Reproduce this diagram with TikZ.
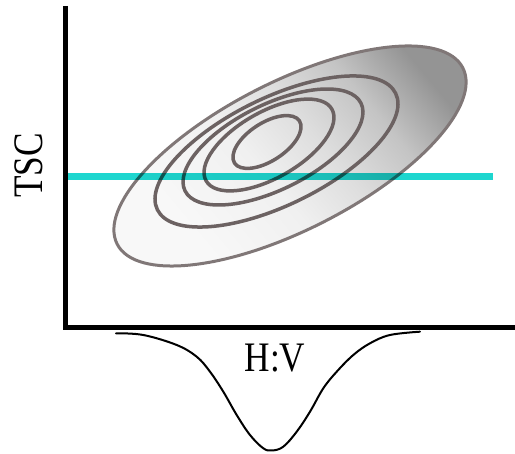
\documentclass[tikz,border=0pt]{standalone}
\usepackage{fontspec}
\setmainfont{Liberation Serif}
\usepackage{graphicx}
\definecolor{outl}{RGB}{128,119,119}
\definecolor{innl}{RGB}{108,98,98}
\definecolor{cyanline}{RGB}{30,214,207}
\definecolor{sh0}{RGB}{248,248,248}
\definecolor{sh1}{RGB}{240,240,240}
\definecolor{sh2}{RGB}{222,222,222}
\definecolor{sh3}{RGB}{196,196,196}
\definecolor{sh4}{RGB}{148,148,148}
\pgfdeclarehorizontalshading{ellsh}{100bp}{color(0bp)=(sh0); color(30bp)=(sh0); color(45bp)=(sh1); color(55bp)=(sh2); color(65bp)=(sh3); color(75bp)=(sh4); color(100bp)=(sh4)}
\tikzset{
  axisline/.style={line width=5pt, line join=miter, black},
  outerell/.style={draw=outl, line width=3pt},
  innerell/.style={draw=innl, line width=3.5pt},
  levelline/.style={cyanline, line width=7pt, blend mode=multiply},
  bellcurve/.style={black, line width=2pt, line cap=round},
  lbl/.style={font=\fontsize{42}{48}\selectfont, inner sep=0pt}
}
\begin{document}
\begin{tikzpicture}[x=1pt,y=1pt]
\useasboundingbox (0,0) rectangle (515,454);
% filled outer ellipse
\shade[shading=ellsh, shading angle=40, rotate around={27:(290,298)}] (290,298) ellipse [x radius=194, y radius=74];
\draw[outerell, rotate around={27:(290,298)}] (290,298) ellipse [x radius=194, y radius=74];
% inner contours
\draw[innerell, rotate around={26:(276.5,302.5)}] (276.5,302.5) ellipse [x radius=132.6, y radius=53.7];
\draw[innerell, rotate around={26.5:(273,307)}] (273,307) ellipse [x radius=98.3, y radius=42.4];
\draw[innerell, rotate around={29.7:(269,309)}] (269,309) ellipse [x radius=72.4, y radius=33];
\draw[innerell, rotate around={33:(267,312)}] (267,312) ellipse [x radius=38.7, y radius=19];
% cyan level line
\coordinate (cl) at (66,277.5);
\coordinate (cr) at (493,277.5);
\draw[levelline] (cl) -- (cr);
% axes
\coordinate (ytop) at (65.5,448);
\coordinate (orig) at (65.5,126.5);
\coordinate (xend) at (515,126.5);
\draw[axisline] (ytop) -- (orig) -- (xend);
% bell curve
\draw[bellcurve] plot[smooth, tension=0.6] coordinates {(116,120.7) (143.3,119) (176.7,109) (196.7,97.3) (210,82.3) (223.3,62.3) (236.7,39) (250,19) (263.3,5.7) (272,3.5) (283.3,7.3) (296.7,22.3) (310,42.3) (323.3,65.7) (336.7,82.3) (353.3,99) (370,110.7) (390,119) (420,122.3)};
% labels
\node[lbl, anchor=base] (hv) at (275,82) {\scalebox{0.84}[1]{H:V}};
\node[lbl, rotate=90, anchor=base] (tsc) at (42,288.5) {\scalebox{0.84}[1]{TSC}};
\end{tikzpicture}
\end{document}
